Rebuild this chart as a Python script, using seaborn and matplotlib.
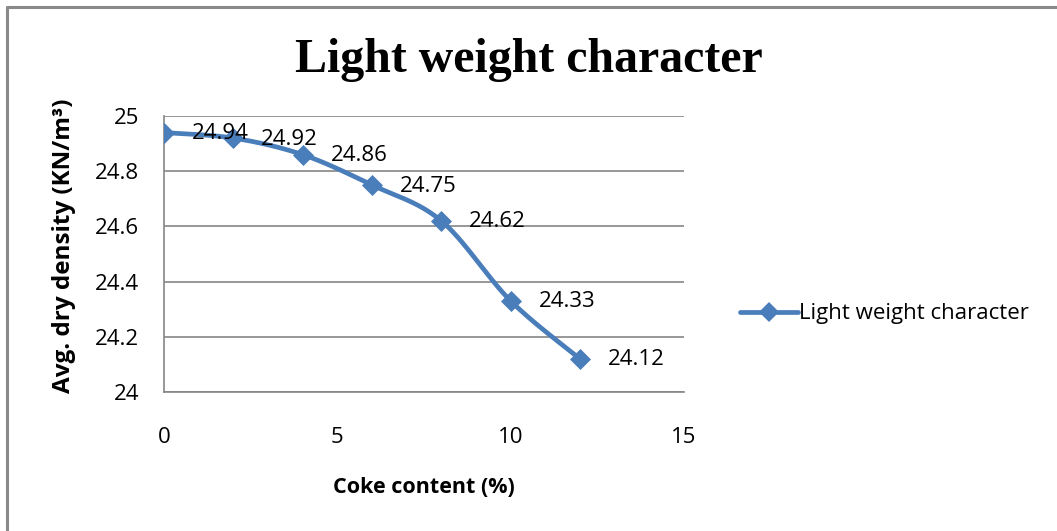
import numpy as np
import pandas as pd
import matplotlib
matplotlib.use("Agg")
import matplotlib.pyplot as plt
from matplotlib.lines import Line2D
import seaborn as sns

# Coke content (%) and average dry density (KN/m³)
coke_content = [0, 2, 4, 6, 8, 10, 12]
dry_density = [24.94, 24.92, 24.86, 24.75, 24.62, 24.33, 24.12]
series_name = "Light weight character"
x_ticks = [0, 5, 10, 15]
y_ticks = [24, 24.2, 24.4, 24.6, 24.8, 25]

BLUE = "#4A7EBB"
GRID = "#868686"
TXT_FONT = ["Open Sans", "DejaVu Sans"]
FS = 16


def smooth_curve(xs, ys, steps=40):
    """Cubic Bezier smoothing through every point (Catmull-Rom style)."""
    p = np.column_stack([xs, ys]).astype(float)
    n = len(p)
    out = [p[0]]
    for i in range(n - 1):
        p0 = p[i - 1] if i > 0 else p[i]
        p1, p2 = p[i], p[i + 1]
        p3 = p[i + 2] if i + 2 < n else p[i + 1]
        c1 = p1 + (p2 - p0) / 6.0
        c2 = p2 - (p3 - p1) / 6.0
        t = np.linspace(0, 1, steps)[1:, None]
        seg = ((1 - t) ** 3) * p1 + 3 * ((1 - t) ** 2) * t * c1 \
            + 3 * (1 - t) * t ** 2 * c2 + t ** 3 * p2
        out.extend(seg)
    out = np.array(out)
    return out[:, 0], out[:, 1]


sns.set_theme(style="white")
plt.rcParams["font.family"] = TXT_FONT
plt.rcParams["text.color"] = "black"
plt.rcParams["axes.labelcolor"] = "black"

fig = plt.figure(figsize=(10.57, 5.31), dpi=100)
ax = fig.add_axes([0.1552, 0.2618, 0.6471 - 0.1552, 0.7815 - 0.2618])

sx, sy = smooth_curve(coke_content, dry_density)
curve = pd.DataFrame({"x": sx, "y": sy})
pts = pd.DataFrame({"x": coke_content, "y": dry_density})

sns.lineplot(data=curve, x="x", y="y", ax=ax, color=BLUE, lw=3.4,
             sort=False, estimator=None, zorder=3)
sns.scatterplot(data=pts, x="x", y="y", ax=ax, marker="D", s=115,
                color=BLUE, edgecolor=BLUE, linewidth=0, zorder=4)

for xv, yv in zip(coke_content, dry_density):
    ax.annotate(f"{yv:.2f}", (xv, yv), xytext=(28, -1),
                textcoords="offset pixels", ha="left", va="center",
                fontsize=FS, color="black", zorder=5)

ax.set_xlim(0, 15)
ax.set_ylim(24, 25)
ax.set_xticks(x_ticks)
ax.set_xticklabels([str(v) for v in x_ticks])
ax.set_yticks(y_ticks)
ax.set_yticklabels([f"{v:g}" for v in y_ticks])
ax.yaxis.grid(True, color=GRID, lw=1.2)
ax.xaxis.grid(False)
for side in ["top", "right"]:
    ax.spines[side].set_visible(False)
for side in ["left", "bottom"]:
    ax.spines[side].set_color(GRID)
    ax.spines[side].set_linewidth(1.2)
ax.tick_params(axis="both", which="major", direction="out", length=6,
               width=1.2, color=GRID, labelsize=FS, labelcolor="black")
ax.tick_params(axis="x", pad=19)
ax.tick_params(axis="y", pad=12)

ax.set_xlabel("Coke content (%)", fontsize=15.5, fontweight="bold",
              labelpad=21)
ax.set_ylabel("Avg. dry density (KN/m³)", fontsize=17.5, fontweight="bold")
ax.yaxis.set_label_coords(-0.170, 0.53)

fig.text(0.5, 1 - 72 / 531, "Light weight character", ha="center",
         va="baseline", fontsize=34.5, fontweight="bold", color="black",
         family=["Liberation Serif"])

handle = Line2D([], [], color=BLUE, lw=3.4, marker="D", markersize=10.5,
                markeredgewidth=0)
fig.legend([handle], [series_name], loc="center left",
           bbox_to_anchor=(0.681, 0.409), frameon=False, fontsize=FS,
           handlelength=2.6, handletextpad=0.05)

# outer chart border (top and left edges)
fig.add_artist(Line2D([0.0067, 0.0067], [0.0, 0.987], transform=fig.transFigure,
                      color="#8a8a8a", lw=2.2))
fig.add_artist(Line2D([0.0067, 1.0], [0.987, 0.987], transform=fig.transFigure,
                      color="#8a8a8a", lw=2.2))

fig.savefig("out.png", dpi=100)
